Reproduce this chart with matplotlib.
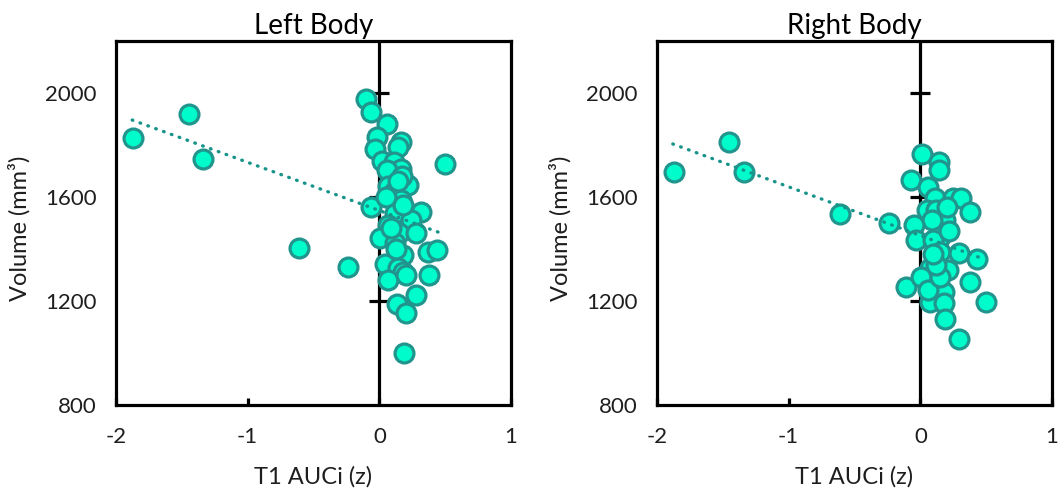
import matplotlib
matplotlib.use("Agg")
import matplotlib.pyplot as plt

plt.rcParams['font.family'] = ['Lato', 'DejaVu Sans']

# ---------------- data ----------------
titles = ["Left Body", "Right Body"]
x_label = "T1 AUCi (z)"
y_label = "Volume (mm³)"
x_ticks = [-2, -1, 0, 1]
y_ticks = [800, 1200, 1600, 2000]

left_x = [-1.874, -1.446, -1.338, -0.609, -0.237,
          -0.105, -0.065, 0.062, -0.014, 0.168, 0.138, -0.034, 0.017, 0.112,
          0.163, 0.062, 0.50, 0.219, 0.067, 0.112, 0.163, -0.06, 0.32, 0.118,
          0.244, 0.067, 0.004, 0.15, 0.28, 0.118, 0.37, 0.44, 0.18, 0.042,
          0.143, 0.18, 0.067, 0.38, 0.28, 0.135, 0.2, 0.19,
          0.17, 0.14, 0.18, 0.09, 0.13, 0.20, 0.05]
left_y = [1828, 1918, 1747, 1403, 1330,
          1977, 1926, 1880, 1830, 1813, 1793, 1783, 1738, 1736,
          1707, 1704, 1726, 1645, 1642, 1620, 1588, 1563, 1543, 1537,
          1512, 1492, 1441, 1460, 1460, 1422, 1390, 1396, 1377, 1341,
          1326, 1313, 1281, 1300, 1223, 1187, 1155, 999,
          1680, 1660, 1570, 1480, 1400, 1300, 1600]

right_x = [-1.873, -1.45, -1.34, -0.61, -0.24, -0.109,
           0.01, 0.14, 0.14, -0.07, 0.06, 0.11, 0.25, 0.31, 0.38, 0.05,
           0.12, 0.19, 0.09, -0.05, -0.03, 0.15, 0.10, 0.15, 0.29, 0.43,
           0.21, 0.07, 0.005, 0.38, 0.18, 0.07, 0.18, 0.50, 0.19, 0.29,
           0.06, 0.15, 0.20, 0.22, 0.12, 0.10]
right_y = [1695, 1812, 1695, 1536, 1501, 1255,
           1764, 1733, 1704, 1665, 1640, 1595, 1595, 1595, 1541, 1550,
           1550, 1511, 1511, 1492, 1435, 1447, 1435, 1390, 1386, 1360,
           1319, 1326, 1293, 1274, 1236, 1197, 1193, 1197, 1131, 1054,
           1242, 1293, 1560, 1470, 1340, 1380]

# linear trend line endpoints
left_trend_x = [-1.877, 0.485]
left_trend_y = [1896, 1458]
right_trend_x = [-1.88, 0.49]
right_trend_y = [1804, 1360]

# ---------------- styling ----------------
FILL = '#00fccb'
EDGE = '#21958d'
TREND = '#17948a'
TXT = '#1e1e1e'

W, H = 1062, 495
fig = plt.figure(figsize=(W / 100, H / 100), dpi=100)

panels = [
    (116, left_x, left_y, left_trend_x, left_trend_y),
    (657, right_x, right_y, right_trend_x, right_trend_y),
]

for i, (x0, xs, ys, tx, ty) in enumerate(panels):
    ax = fig.add_axes([x0 / W, (H - 405) / H, 395 / W, 364 / H])
    ax.set_xlim(-2, 1)
    ax.set_ylim(800, 2200)
    for s in ax.spines.values():
        s.set_linewidth(2.3)
        s.set_color('black')
        s.set_zorder(5)

    # vertical axis crossing at x = 0 with crossing tick marks
    ax.axvline(0, color='black', lw=2.3, zorder=1)
    ax.plot([0] * (len(y_ticks) - 1), y_ticks[1:], ls='none', marker='_',
            ms=15, mew=2.3, color='black', zorder=1)

    ax.scatter(xs, ys, s=185, c=FILL, edgecolors=EDGE, linewidths=2.3,
               zorder=3)
    ax.plot(tx, ty, color=TREND, lw=2.4, ls=(0, (0.2, 2.3)),
            dash_capstyle='round', zorder=4)

    ax.set_xticks(x_ticks)
    ax.set_yticks(y_ticks)
    ax.tick_params(axis='x', direction='in', length=5, width=2.3,
                   labelsize=16, labelcolor=TXT, pad=16)
    ax.tick_params(axis='y', length=0, labelsize=16, labelcolor=TXT, pad=14)
    ax.set_xticklabels(['-2', '-1', '0', '1'])

    ax.set_title(titles[i], fontsize=20, color='black', pad=5)
    ax.set_xlabel(x_label, fontsize=17, color=TXT)
    ax.set_ylabel(y_label, fontsize=17, color=TXT)
    ax.xaxis.set_label_coords(0.5, -0.168)
    ax.yaxis.set_label_coords(-0.215, 0.485)

fig.savefig('out.png', dpi=100)
